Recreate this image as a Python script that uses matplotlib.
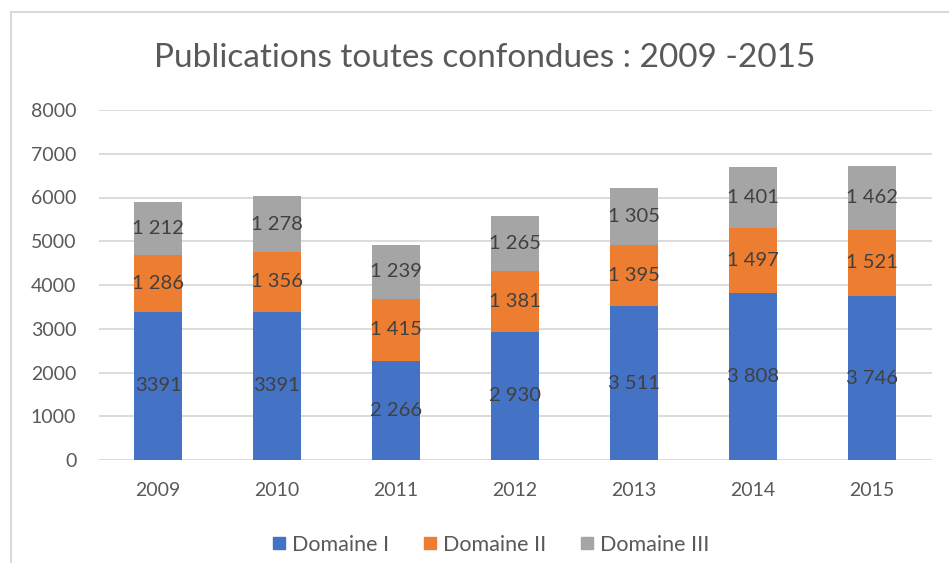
import matplotlib.pyplot as plt
from matplotlib.lines import Line2D

years = ['2009', '2010', '2011', '2012', '2013', '2014', '2015']
domaine_1 = [3391, 3391, 2266, 2930, 3511, 3808, 3746]
domaine_2 = [1286, 1356, 1415, 1381, 1395, 1497, 1521]
domaine_3 = [1212, 1278, 1239, 1265, 1305, 1401, 1462]
# the first two blue labels have no thousands separator in the source
domaine_1_labels = ['3391', '3391', '2 266', '2 930', '3 511', '3 808', '3 746']

series_names = ['Domaine I', 'Domaine II', 'Domaine III']
colors = ['#4472C4', '#ED7D31', '#A5A5A5']


def fmt(v):
    return f'{v:,}'.replace(',', ' ')


def main():
    plt.rcParams['font.family'] = ['Lato', 'DejaVu Sans']

    W, H = 949, 563
    fig = plt.figure(figsize=(W / 100, H / 100), dpi=100)
    ax = fig.add_axes([98.5 / W, (H - 460) / H, 833 / W, 350 / H])

    x = list(range(len(years)))
    bottom2 = domaine_1
    bottom3 = [a + b for a, b in zip(domaine_1, domaine_2)]

    b1 = ax.bar(x, domaine_1, width=0.4, color=colors[0], zorder=3)
    b2 = ax.bar(x, domaine_2, width=0.4, bottom=bottom2, color=colors[1], zorder=3)
    b3 = ax.bar(x, domaine_3, width=0.4, bottom=bottom3, color=colors[2], zorder=3)

    lab_kw = dict(label_type='center', color='#404040', fontsize=14.5)
    ax.bar_label(b1, labels=domaine_1_labels, **lab_kw)
    ax.bar_label(b2, labels=[fmt(v) for v in domaine_2], **lab_kw)
    ax.bar_label(b3, labels=[fmt(v) for v in domaine_3], **lab_kw)

    ax.set_xlim(-0.5, len(years) - 0.5)
    ax.set_ylim(0, 8000)
    ax.set_yticks(range(0, 8001, 1000))
    ax.set_xticks(x)
    ax.set_xticklabels(years)
    ax.tick_params(axis='both', length=0, labelsize=14, labelcolor='#595959')
    ax.tick_params(axis='y', pad=16)
    ax.tick_params(axis='x', pad=16)
    ax.grid(axis='y', color='#d9d9d9', linewidth=1.3, zorder=0)
    for s in ax.spines.values():
        s.set_visible(False)

    fig.text(485 / W, 1 - 58 / H, 'Publications toutes confondues : 2009 -2015',
             ha='center', va='center', fontsize=24, color='#595959')

    handles = [Line2D([], [], marker='s', linestyle='', markersize=9,
                      markerfacecolor=c, markeredgecolor=c) for c in colors]
    fig.legend(handles, series_names, loc='center', bbox_to_anchor=(490 / W, 1 - 545 / H),
               ncol=3, frameon=False, fontsize=15.5, labelcolor='#595959',
               handletextpad=0.2, columnspacing=1.5, handlelength=0.8)

    # light frame on the left and top edges, like the pasted Excel chart
    fig.add_artist(Line2D([11 / W, 11 / W], [0, 1 - 12 / H], color='#d9d9d9', lw=1.5))
    fig.add_artist(Line2D([11 / W, 1], [1 - 12 / H, 1 - 12 / H], color='#d9d9d9', lw=1.5))

    plt.savefig('out.png', dpi=100)


if __name__ == '__main__':
    main()
